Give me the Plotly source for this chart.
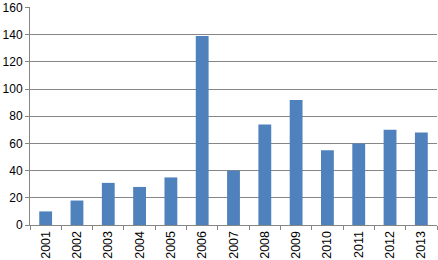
import plotly.graph_objects as go

years = ["2001", "2002", "2003", "2004", "2005", "2006", "2007",
         "2008", "2009", "2010", "2011", "2012", "2013"]
values = [10, 18, 31, 28, 35, 139, 40, 74, 92, 55, 60, 70, 68]
y_ticks = [0, 20, 40, 60, 80, 100, 120, 140, 160]

fig = go.Figure(go.Bar(x=years, y=values, marker=dict(color="#4F81BD", line=dict(width=0))))

fig.update_layout(
    width=438, height=260,
    margin=dict(l=30, r=1, t=4, b=34),
    paper_bgcolor="white", plot_bgcolor="white",
    bargap=0.59,
    showlegend=False,
    font=dict(family="Liberation Sans, Arial, sans-serif", size=12, color="#000000"),
)
fig.update_xaxes(
    type="category", tickangle=-90,
    showline=True, linecolor="#868686", linewidth=1,
    ticks="outside", ticklen=4, tickcolor="#868686", tickson="boundaries",
    showgrid=False, tickfont=dict(size=12.5),
)
fig.update_yaxes(
    range=[0, 160.4], tickvals=y_ticks,
    showline=True, linecolor="#868686", linewidth=1,
    ticks="outside", ticklen=4, tickcolor="#868686",
    showgrid=True, gridcolor="#868686", gridwidth=1,
    zeroline=False, tickfont=dict(size=12),
    ticklabeloverflow="allow",
)

fig.write_html("out.html")
